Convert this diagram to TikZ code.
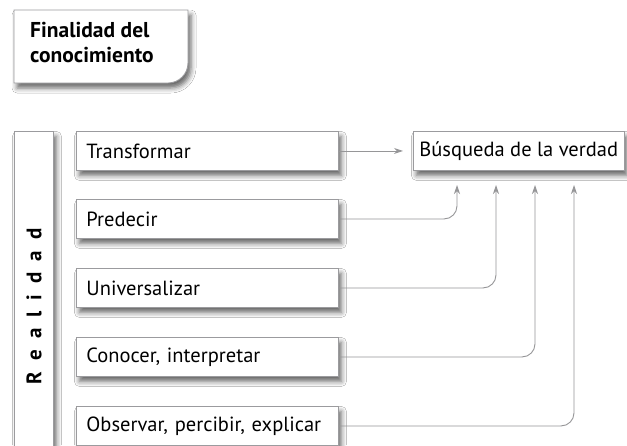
\documentclass[tikz,border=0pt]{standalone}
\usepackage{fontspec}
\setmainfont{PT Sans}
\usetikzlibrary{arrows.meta,shadows.blur}

\definecolor{framegray}{RGB}{155,155,158}
\definecolor{linegray}{RGB}{150,150,152}

\begin{document}
\begin{tikzpicture}[x=1pt,y=-1pt,
  softshadow/.style={blur shadow={shadow xshift=3pt,shadow yshift=-5pt,shadow blur radius=5pt,shadow opacity=60}},
  box/.style={draw=framegray,line width=0.9pt,fill=white,softshadow,
    minimum height=39pt,inner xsep=10pt,align=left,anchor=north west,
    font=\fontsize{20.5}{23}\selectfont},
  wide/.style={box,text width=242pt},
  goalbox/.style={box,minimum width=209pt,inner xsep=6pt},
  realbox/.style={box,minimum width=39pt,minimum height=350pt,inner xsep=0pt,
    font=\fontsize{21}{23}\selectfont\bfseries},
  conn/.style={draw=linegray,line width=0.9pt,rounded corners=13pt,
    -{Stealth[length=9pt,width=6pt]}}]
  \clip (0,0) rectangle (627,445);
  \fill[white] (0,0) rectangle (627,445);
  % Title
  \draw[framegray,line width=0.9pt,fill=white,softshadow]
    (14,10) -- (188,10) -- (188,63) .. controls (188,74) and (179,83) .. (168,83)
    -- (14,83) -- cycle;
  \node[anchor=north west,align=left,inner sep=0pt,
    font=\fontsize{21.5}{25}\selectfont\bfseries] (titulo) at (30,22)
    {Finalidad del\\conocimiento};
  % Left column
  \node[realbox] (realidad) at (14,131)
    {\rotatebox{90}{R\hspace{11pt}e\hspace{11pt}a\hspace{11pt}l\hspace{11pt}i\hspace{11pt}d\hspace{11pt}a\hspace{11pt}d}};
  % Boxes
  \node[wide] (transformar) at (76,131) {Transformar};
  \node[wide] (predecir) at (76,199) {Predecir};
  \node[wide] (universalizar) at (76,268) {Universalizar};
  \node[wide] (conocer) at (76,337) {Conocer, interpretar};
  \node[wide] (observar) at (76,406) {Observar, percibir, explicar};
  \node[goalbox] (busqueda) at (413,131) {Búsqueda de la verdad};
  % Arrow ends
  \coordinate (up1) at (457,185);
  \coordinate (up2) at (496,185);
  \coordinate (up3) at (535,185);
  \coordinate (up4) at (574,185);
  % Connectors
  \draw[conn,shorten >=10pt] (transformar.east) -- (busqueda.west);
  \draw[conn] (predecir.east) -| (up1);
  \draw[conn] (universalizar.east) -| (up2);
  \draw[conn] (conocer.east) -| (up3);
  \draw[conn] (observar.east) -| (up4);
\end{tikzpicture}
\end{document}
